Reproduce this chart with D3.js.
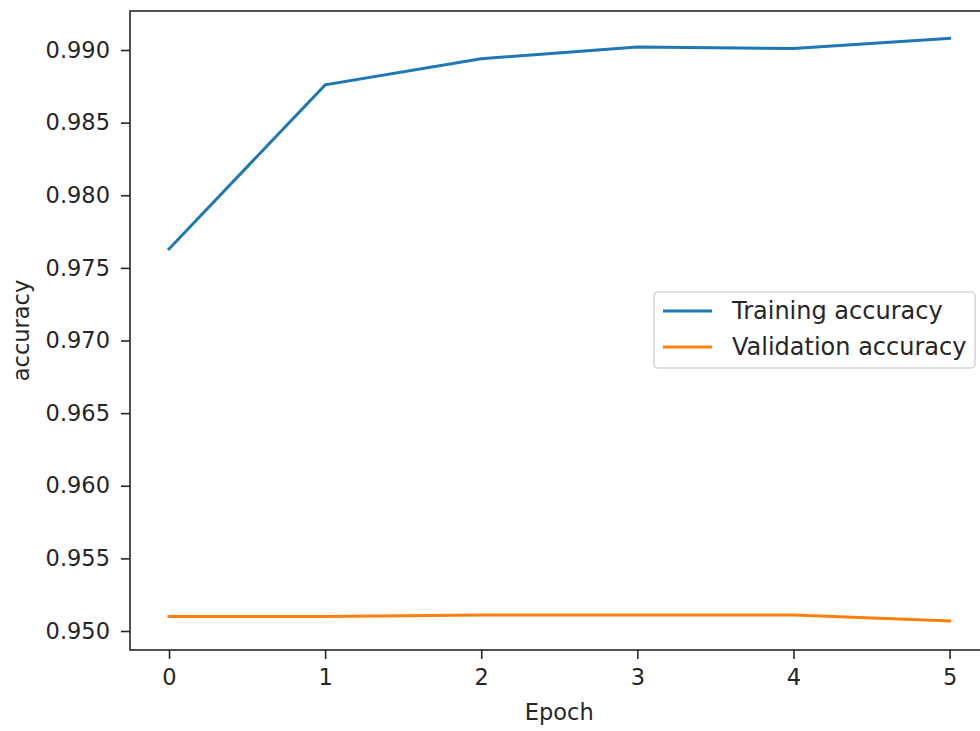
<!DOCTYPE html>
<html>
<head>
<meta charset="utf-8">
<script src="https://cdn.jsdelivr.net/npm/d3@7"></script>
<style>
  body { margin: 0; background: #fff; }
  svg { display: block; font-family: "DejaVu Sans", sans-serif; }
</style>
</head>
<body>
<div id="chart"></div>
<script>
// data
var epochs = [0, 1, 2, 3, 4, 5];
var trainAcc = [0.9763, 0.9876, 0.9894, 0.9902, 0.9901, 0.9908];
var valAcc = [0.9510, 0.9510, 0.9511, 0.9511, 0.9511, 0.9507];
var yTicks = [0.950, 0.955, 0.960, 0.965, 0.970, 0.975, 0.980, 0.985, 0.990];
var seriesNames = ['Training accuracy', 'Validation accuracy'];
var colors = ['#1f77b4', '#ff7f0e'];

var width = 980, height = 731;
var margin = { top: 11, left: 130, bottom: 81 };
var plotRight = 988.6;
var fontSize = 22.5;
var ink = '#262626';

const svg = d3.select('#chart')
    .append('svg')
    .attr('width', width)
    .attr('height', height)

// scales (matplotlib style 5% padding)
var x = d3.scaleLinear()
    .domain([-0.25, 5.25])
    .range([margin.left, plotRight])

var y = d3.scaleLinear()
    .domain([0.948692, 0.992685])
    .range([height - margin.bottom, margin.top])

function styleAxis(g) {
    g.select('.domain').remove()
    g.selectAll('text').attr('font-size', fontSize).attr('fill', ink).attr('font-family', 'DejaVu Sans')
    g.selectAll('line').attr('stroke', ink).attr('stroke-width', 1.6)
}

// axes
svg.append('g')
    .attr('transform', `translate(0,${height - margin.bottom})`)
    .call(d3.axisBottom(x).tickValues(epochs).tickFormat(d3.format('d')).tickSize(9).tickPadding(10))
    .call(styleAxis)

svg.append('g')
    .attr('transform', `translate(${margin.left},0)`)
    .call(d3.axisLeft(y).tickValues(yTicks).tickFormat(d3.format('.3f')).tickSize(9).tickPadding(11))
    .call(styleAxis)

// frame
svg.append('rect')
    .attr('x', margin.left)
    .attr('y', margin.top)
    .attr('width', plotRight - margin.left)
    .attr('height', height - margin.bottom - margin.top)
    .attr('fill', 'none')
    .attr('stroke', ink)
    .attr('stroke-width', 1.6)

// lines
var line = d3.line()
    .x((d, i) => x(epochs[i]))
    .y(d => y(d))

;[trainAcc, valAcc].forEach((s, i) => {
    svg.append('path')
        .datum(s)
        .attr('d', line)
        .attr('fill', 'none')
        .attr('stroke', colors[i])
        .attr('stroke-width', 3)
        .attr('stroke-linecap', 'square')
})

// axis labels
svg.append('text')
    .attr('x', x(2.5))
    .attr('y', 720)
    .attr('text-anchor', 'middle')
    .attr('font-size', fontSize)
    .attr('fill', ink)
    .text('Epoch')

svg.append('text')
    .attr('transform', `translate(29,${(margin.top + height - margin.bottom) / 2}) rotate(-90)`)
    .attr('text-anchor', 'middle')
    .attr('font-size', fontSize)
    .attr('fill', ink)
    .text('accuracy')

// legend
var legend = svg.append('g')
    .attr('transform', 'translate(654,292)')

legend.append('rect')
    .attr('width', 321)
    .attr('height', 76)
    .attr('rx', 4)
    .attr('fill', 'white')
    .attr('fill-opacity', 0.8)
    .attr('stroke', '#d6d6d6')
    .attr('stroke-width', 1.6)

seriesNames.forEach((name, i) => {
    legend.append('line')
        .attr('x1', 9).attr('x2', 58)
        .attr('y1', 19 + i * 36).attr('y2', 19 + i * 36)
        .attr('stroke', colors[i])
        .attr('stroke-width', 3)
    legend.append('text')
        .attr('x', 78)
        .attr('y', 19 + i * 36)
        .attr('dy', '0.35em')
        .attr('font-size', 24)
        .attr('fill', ink)
        .text(name)
})
</script>
</body>
</html>
